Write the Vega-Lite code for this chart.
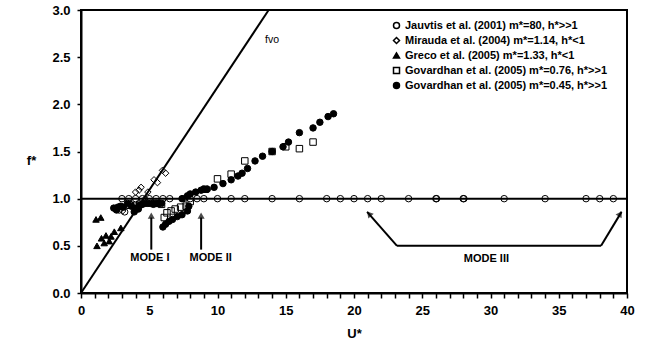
{
  "$schema": "https://vega.github.io/schema/vega-lite/v6.json",
  "width": 546,
  "height": 283,
  "autosize": "none",
  "padding": {"left": 81, "top": 10, "right": 26, "bottom": 52},
  "background": "white",
  "config": {
    "font": "Liberation Sans",
    "view": {"stroke": "black", "strokeWidth": 2},
    "axis": {"grid": false, "domainColor": "black", "domainWidth": 2, "tickColor": "black", "tickWidth": 1.5, "labelFont": "Liberation Sans", "labelFontWeight": "bold", "labelFontSize": 13, "labelColor": "black", "labelOverlap": false, "titleFont": "Liberation Sans", "titleFontWeight": "bold", "titleFontSize": 13, "titleColor": "black"},
    "legend": {"labelFont": "Liberation Sans", "labelFontWeight": "bold", "labelFontSize": 11, "labelColor": "black", "labelLimit": 0}
  },
  "datasets": {
    "pts": [
      {"series": "Jauvtis et al. (2001) m*=80, h*>>1", "U": 3, "f": 1},
      {"series": "Jauvtis et al. (2001) m*=80, h*>>1", "U": 3.5, "f": 1},
      {"series": "Jauvtis et al. (2001) m*=80, h*>>1", "U": 4, "f": 1},
      {"series": "Jauvtis et al. (2001) m*=80, h*>>1", "U": 4.5, "f": 1},
      {"series": "Jauvtis et al. (2001) m*=80, h*>>1", "U": 5, "f": 1},
      {"series": "Jauvtis et al. (2001) m*=80, h*>>1", "U": 5.5, "f": 1},
      {"series": "Jauvtis et al. (2001) m*=80, h*>>1", "U": 6, "f": 1},
      {"series": "Jauvtis et al. (2001) m*=80, h*>>1", "U": 6.5, "f": 1},
      {"series": "Jauvtis et al. (2001) m*=80, h*>>1", "U": 7.5, "f": 1},
      {"series": "Jauvtis et al. (2001) m*=80, h*>>1", "U": 8, "f": 1},
      {"series": "Jauvtis et al. (2001) m*=80, h*>>1", "U": 8.5, "f": 1},
      {"series": "Jauvtis et al. (2001) m*=80, h*>>1", "U": 9, "f": 1},
      {"series": "Jauvtis et al. (2001) m*=80, h*>>1", "U": 10, "f": 1},
      {"series": "Jauvtis et al. (2001) m*=80, h*>>1", "U": 11, "f": 1},
      {"series": "Jauvtis et al. (2001) m*=80, h*>>1", "U": 12, "f": 1},
      {"series": "Jauvtis et al. (2001) m*=80, h*>>1", "U": 14, "f": 1},
      {"series": "Jauvtis et al. (2001) m*=80, h*>>1", "U": 16, "f": 1},
      {"series": "Jauvtis et al. (2001) m*=80, h*>>1", "U": 18, "f": 1},
      {"series": "Jauvtis et al. (2001) m*=80, h*>>1", "U": 19, "f": 1},
      {"series": "Jauvtis et al. (2001) m*=80, h*>>1", "U": 20, "f": 1},
      {"series": "Jauvtis et al. (2001) m*=80, h*>>1", "U": 21, "f": 1},
      {"series": "Jauvtis et al. (2001) m*=80, h*>>1", "U": 22, "f": 1},
      {"series": "Jauvtis et al. (2001) m*=80, h*>>1", "U": 24, "f": 1},
      {"series": "Jauvtis et al. (2001) m*=80, h*>>1", "U": 26, "f": 1},
      {"series": "Jauvtis et al. (2001) m*=80, h*>>1", "U": 26.05, "f": 1},
      {"series": "Jauvtis et al. (2001) m*=80, h*>>1", "U": 28, "f": 1},
      {"series": "Jauvtis et al. (2001) m*=80, h*>>1", "U": 28.05, "f": 1},
      {"series": "Jauvtis et al. (2001) m*=80, h*>>1", "U": 31, "f": 1},
      {"series": "Jauvtis et al. (2001) m*=80, h*>>1", "U": 34, "f": 1},
      {"series": "Jauvtis et al. (2001) m*=80, h*>>1", "U": 37, "f": 1},
      {"series": "Jauvtis et al. (2001) m*=80, h*>>1", "U": 38, "f": 1},
      {"series": "Jauvtis et al. (2001) m*=80, h*>>1", "U": 39, "f": 1},
      {"series": "Jauvtis et al. (2001) m*=80, h*>>1", "U": 2.8, "f": 0.88},
      {"series": "Jauvtis et al. (2001) m*=80, h*>>1", "U": 3.2, "f": 0.86},
      {"series": "Mirauda et al. (2004) m*=1.14, h*<1", "U": 2.7, "f": 0.9},
      {"series": "Mirauda et al. (2004) m*=1.14, h*<1", "U": 3.05, "f": 0.87},
      {"series": "Mirauda et al. (2004) m*=1.14, h*<1", "U": 3.6, "f": 0.95},
      {"series": "Mirauda et al. (2004) m*=1.14, h*<1", "U": 4.0, "f": 1.07},
      {"series": "Mirauda et al. (2004) m*=1.14, h*<1", "U": 4.25, "f": 1.09},
      {"series": "Mirauda et al. (2004) m*=1.14, h*<1", "U": 4.4, "f": 1.12},
      {"series": "Mirauda et al. (2004) m*=1.14, h*<1", "U": 4.7, "f": 1.0},
      {"series": "Mirauda et al. (2004) m*=1.14, h*<1", "U": 4.9, "f": 1.07},
      {"series": "Mirauda et al. (2004) m*=1.14, h*<1", "U": 5.35, "f": 1.2},
      {"series": "Mirauda et al. (2004) m*=1.14, h*<1", "U": 5.6, "f": 1.17},
      {"series": "Mirauda et al. (2004) m*=1.14, h*<1", "U": 5.97, "f": 1.3},
      {"series": "Mirauda et al. (2004) m*=1.14, h*<1", "U": 6.2, "f": 1.27},
      {"series": "Greco et al. (2005) m*=1.33, h*<1", "U": 1.1, "f": 0.78},
      {"series": "Greco et al. (2005) m*=1.33, h*<1", "U": 1.45, "f": 0.8},
      {"series": "Greco et al. (2005) m*=1.33, h*<1", "U": 1.17, "f": 0.5},
      {"series": "Greco et al. (2005) m*=1.33, h*<1", "U": 1.5, "f": 0.58},
      {"series": "Greco et al. (2005) m*=1.33, h*<1", "U": 1.83, "f": 0.61},
      {"series": "Greco et al. (2005) m*=1.33, h*<1", "U": 2.2, "f": 0.6},
      {"series": "Greco et al. (2005) m*=1.33, h*<1", "U": 2.44, "f": 0.65},
      {"series": "Greco et al. (2005) m*=1.33, h*<1", "U": 2.92, "f": 0.69},
      {"series": "Greco et al. (2005) m*=1.33, h*<1", "U": 1.7, "f": 0.53},
      {"series": "Greco et al. (2005) m*=1.33, h*<1", "U": 2.07, "f": 0.55},
      {"series": "Govardhan et al. (2005) m*=0.76, h*>>1", "U": 3.6, "f": 0.93},
      {"series": "Govardhan et al. (2005) m*=0.76, h*>>1", "U": 4.0, "f": 0.92},
      {"series": "Govardhan et al. (2005) m*=0.76, h*>>1", "U": 4.3, "f": 0.94},
      {"series": "Govardhan et al. (2005) m*=0.76, h*>>1", "U": 5.5, "f": 0.95},
      {"series": "Govardhan et al. (2005) m*=0.76, h*>>1", "U": 5.9, "f": 0.94},
      {"series": "Govardhan et al. (2005) m*=0.76, h*>>1", "U": 6.1, "f": 0.8},
      {"series": "Govardhan et al. (2005) m*=0.76, h*>>1", "U": 6.3, "f": 0.85},
      {"series": "Govardhan et al. (2005) m*=0.76, h*>>1", "U": 6.6, "f": 0.87},
      {"series": "Govardhan et al. (2005) m*=0.76, h*>>1", "U": 6.9, "f": 0.89},
      {"series": "Govardhan et al. (2005) m*=0.76, h*>>1", "U": 7.3, "f": 0.91},
      {"series": "Govardhan et al. (2005) m*=0.76, h*>>1", "U": 7.7, "f": 0.92},
      {"series": "Govardhan et al. (2005) m*=0.76, h*>>1", "U": 8.0, "f": 0.97},
      {"series": "Govardhan et al. (2005) m*=0.76, h*>>1", "U": 9.1, "f": 1.1},
      {"series": "Govardhan et al. (2005) m*=0.76, h*>>1", "U": 10.0, "f": 1.21},
      {"series": "Govardhan et al. (2005) m*=0.76, h*>>1", "U": 11.0, "f": 1.26},
      {"series": "Govardhan et al. (2005) m*=0.76, h*>>1", "U": 12.0, "f": 1.4},
      {"series": "Govardhan et al. (2005) m*=0.76, h*>>1", "U": 14.0, "f": 1.5},
      {"series": "Govardhan et al. (2005) m*=0.76, h*>>1", "U": 15.0, "f": 1.55},
      {"series": "Govardhan et al. (2005) m*=0.76, h*>>1", "U": 16.0, "f": 1.53},
      {"series": "Govardhan et al. (2005) m*=0.76, h*>>1", "U": 17.0, "f": 1.6},
      {"series": "Govardhan et al. (2005) m*=0.45, h*>>1", "U": 2.4, "f": 0.9},
      {"series": "Govardhan et al. (2005) m*=0.45, h*>>1", "U": 2.6, "f": 0.88},
      {"series": "Govardhan et al. (2005) m*=0.45, h*>>1", "U": 2.7, "f": 0.91},
      {"series": "Govardhan et al. (2005) m*=0.45, h*>>1", "U": 2.9, "f": 0.92},
      {"series": "Govardhan et al. (2005) m*=0.45, h*>>1", "U": 3.1, "f": 0.91},
      {"series": "Govardhan et al. (2005) m*=0.45, h*>>1", "U": 3.4, "f": 0.95},
      {"series": "Govardhan et al. (2005) m*=0.45, h*>>1", "U": 3.7, "f": 0.92},
      {"series": "Govardhan et al. (2005) m*=0.45, h*>>1", "U": 3.9, "f": 0.86},
      {"series": "Govardhan et al. (2005) m*=0.45, h*>>1", "U": 4.0, "f": 0.9},
      {"series": "Govardhan et al. (2005) m*=0.45, h*>>1", "U": 4.2, "f": 0.89},
      {"series": "Govardhan et al. (2005) m*=0.45, h*>>1", "U": 4.3, "f": 0.93},
      {"series": "Govardhan et al. (2005) m*=0.45, h*>>1", "U": 4.5, "f": 0.94},
      {"series": "Govardhan et al. (2005) m*=0.45, h*>>1", "U": 4.7, "f": 0.95},
      {"series": "Govardhan et al. (2005) m*=0.45, h*>>1", "U": 4.9, "f": 0.95},
      {"series": "Govardhan et al. (2005) m*=0.45, h*>>1", "U": 5.1, "f": 0.95},
      {"series": "Govardhan et al. (2005) m*=0.45, h*>>1", "U": 5.3, "f": 0.94},
      {"series": "Govardhan et al. (2005) m*=0.45, h*>>1", "U": 5.5, "f": 0.95},
      {"series": "Govardhan et al. (2005) m*=0.45, h*>>1", "U": 5.7, "f": 0.95},
      {"series": "Govardhan et al. (2005) m*=0.45, h*>>1", "U": 5.9, "f": 0.95},
      {"series": "Govardhan et al. (2005) m*=0.45, h*>>1", "U": 6.0, "f": 0.7},
      {"series": "Govardhan et al. (2005) m*=0.45, h*>>1", "U": 6.2, "f": 0.73},
      {"series": "Govardhan et al. (2005) m*=0.45, h*>>1", "U": 6.45, "f": 0.76},
      {"series": "Govardhan et al. (2005) m*=0.45, h*>>1", "U": 6.7, "f": 0.78},
      {"series": "Govardhan et al. (2005) m*=0.45, h*>>1", "U": 7.05, "f": 0.81},
      {"series": "Govardhan et al. (2005) m*=0.45, h*>>1", "U": 7.4, "f": 0.83},
      {"series": "Govardhan et al. (2005) m*=0.45, h*>>1", "U": 7.8, "f": 0.87},
      {"series": "Govardhan et al. (2005) m*=0.45, h*>>1", "U": 7.9, "f": 0.92},
      {"series": "Govardhan et al. (2005) m*=0.45, h*>>1", "U": 7.4, "f": 1.0},
      {"series": "Govardhan et al. (2005) m*=0.45, h*>>1", "U": 7.8, "f": 1.03},
      {"series": "Govardhan et al. (2005) m*=0.45, h*>>1", "U": 8.0, "f": 1.05},
      {"series": "Govardhan et al. (2005) m*=0.45, h*>>1", "U": 8.4, "f": 1.07},
      {"series": "Govardhan et al. (2005) m*=0.45, h*>>1", "U": 8.8, "f": 1.09},
      {"series": "Govardhan et al. (2005) m*=0.45, h*>>1", "U": 9.0, "f": 1.1},
      {"series": "Govardhan et al. (2005) m*=0.45, h*>>1", "U": 9.25, "f": 1.1},
      {"series": "Govardhan et al. (2005) m*=0.45, h*>>1", "U": 9.75, "f": 1.12},
      {"series": "Govardhan et al. (2005) m*=0.45, h*>>1", "U": 10.4, "f": 1.16},
      {"series": "Govardhan et al. (2005) m*=0.45, h*>>1", "U": 11.0, "f": 1.2},
      {"series": "Govardhan et al. (2005) m*=0.45, h*>>1", "U": 11.5, "f": 1.24},
      {"series": "Govardhan et al. (2005) m*=0.45, h*>>1", "U": 11.8, "f": 1.27},
      {"series": "Govardhan et al. (2005) m*=0.45, h*>>1", "U": 12.2, "f": 1.32},
      {"series": "Govardhan et al. (2005) m*=0.45, h*>>1", "U": 12.75, "f": 1.4},
      {"series": "Govardhan et al. (2005) m*=0.45, h*>>1", "U": 13.3, "f": 1.45},
      {"series": "Govardhan et al. (2005) m*=0.45, h*>>1", "U": 14.0, "f": 1.5},
      {"series": "Govardhan et al. (2005) m*=0.45, h*>>1", "U": 14.8, "f": 1.55},
      {"series": "Govardhan et al. (2005) m*=0.45, h*>>1", "U": 15.2, "f": 1.6},
      {"series": "Govardhan et al. (2005) m*=0.45, h*>>1", "U": 16.0, "f": 1.7},
      {"series": "Govardhan et al. (2005) m*=0.45, h*>>1", "U": 17.0, "f": 1.75},
      {"series": "Govardhan et al. (2005) m*=0.45, h*>>1", "U": 17.5, "f": 1.81},
      {"series": "Govardhan et al. (2005) m*=0.45, h*>>1", "U": 18.1, "f": 1.87},
      {"series": "Govardhan et al. (2005) m*=0.45, h*>>1", "U": 18.5, "f": 1.9}
    ],
    "segs": [
      {"U": 0, "f": 1, "U2": 40, "f2": 1},
      {"U": 0, "f": 0, "U2": 13.75, "f2": 3},
      {"U": 5.15, "f": 0.46, "U2": 5.15, "f2": 0.8},
      {"U": 8.8, "f": 0.46, "U2": 8.8, "f2": 0.8},
      {"U": 20.96, "f": 0.86, "U2": 23.15, "f2": 0.5},
      {"U": 23.15, "f": 0.5, "U2": 38.1, "f2": 0.5},
      {"U": 38.1, "f": 0.5, "U2": 39.6, "f2": 0.86}
    ],
    "labels": [
      {"U": 5.05, "f": 0.37, "text": "MODE I"},
      {"U": 9.5, "f": 0.37, "text": "MODE II"},
      {"U": 29.7, "f": 0.36, "text": "MODE III"}
    ]
  },
  "encoding": {
    "x": {"field": "U", "type": "quantitative", "scale": {"domain": [0, 40], "nice": false}, "axis": {"values": [0,1,2,3,4,5,6,7,8,9,10,11,12,13,14,15,16,17,18,19,20,21,22,23,24,25,26,27,28,29,30,31,32,33,34,35,36,37,38,39,40], "labelExpr": "datum.value % 5 == 0 ? datum.label : ''", "labelOverlap": false, "labelBound": false, "labelFlush": false, "ticks": true, "tickSize": 5, "labelPadding": 6, "title": "U*", "titlePadding": 10}},
    "y": {"field": "f", "type": "quantitative", "scale": {"domain": [0, 3], "nice": false}, "axis": {"values": [0, 0.5, 1, 1.5, 2, 2.5, 3], "format": ".1f", "tickSize": 4, "ticks": true, "labelPadding": 7, "title": "f*", "titleAngle": 0, "titleX": -50, "titleY": 150, "titleAlign": "center", "titleBaseline": "middle"}}
  },
  "layer": [
    {
      "data": {"name": "segs"},
      "mark": {"type": "rule", "color": "black", "strokeWidth": 2},
      "encoding": {
        "x2": {"field": "U2"},
        "y2": {"field": "f2"}
      }
    },
    {
      "data": {"name": "pts"},
      "mark": {"type": "point", "filled": false, "strokeWidth": 1, "size": 42, "opacity": 1},
      "encoding": {
        "stroke": {"field": "series", "type": "nominal", "sort": null, "scale": {"domain": ["Jauvtis et al. (2001) m*=80, h*>>1", "Mirauda et al. (2004) m*=1.14, h*<1", "Greco et al. (2005) m*=1.33, h*<1", "Govardhan et al. (2005) m*=0.76, h*>>1", "Govardhan et al. (2005) m*=0.45, h*>>1"], "range": ["black", "black", "black", "black", "black"]}, "legend": {"title": null, "orient": "none", "legendX": 310, "legendY": 10, "rowPadding": 2, "symbolSize": 36, "labelOffset": 3, "encode": {"symbols": {"update": {"fill": {"signal": "(datum.value == 'Greco et al. (2005) m*=1.33, h*<1' || datum.value == 'Govardhan et al. (2005) m*=0.45, h*>>1') ? 'black' : 'transparent'"}}}}}},
        "shape": {"field": "series", "type": "nominal", "sort": null, "scale": {"domain": ["Jauvtis et al. (2001) m*=80, h*>>1", "Mirauda et al. (2004) m*=1.14, h*<1", "Greco et al. (2005) m*=1.33, h*<1", "Govardhan et al. (2005) m*=0.76, h*>>1", "Govardhan et al. (2005) m*=0.45, h*>>1"], "range": ["circle", "diamond", "triangle-up", "square", "circle"]}, "legend": {"title": null, "orient": "none", "legendX": 310, "legendY": 10, "rowPadding": 2, "symbolSize": 36, "labelOffset": 3, "encode": {"symbols": {"update": {"fill": {"signal": "(datum.value == 'Greco et al. (2005) m*=1.33, h*<1' || datum.value == 'Govardhan et al. (2005) m*=0.45, h*>>1') ? 'black' : 'transparent'"}}}}}},
        "fill": {"field": "series", "type": "nominal", "sort": null, "scale": {"domain": ["Jauvtis et al. (2001) m*=80, h*>>1", "Mirauda et al. (2004) m*=1.14, h*<1", "Greco et al. (2005) m*=1.33, h*<1", "Govardhan et al. (2005) m*=0.76, h*>>1", "Govardhan et al. (2005) m*=0.45, h*>>1"], "range": ["transparent", "transparent", "black", "transparent", "black"]}, "legend": null}
      }
    },
    {
      "data": {"values": [{"U": 5.15, "f": 0.82}, {"U": 8.8, "f": 0.82}]},
      "mark": {"type": "point", "shape": "triangle-up", "filled": true, "color": "black", "size": 50}
    },
    {
      "data": {"values": [{"U": 21.1, "f": 0.84}]},
      "mark": {"type": "point", "shape": "triangle-up", "filled": true, "color": "black", "size": 50, "angle": 319}
    },
    {
      "data": {"values": [{"U": 39.5, "f": 0.84}]},
      "mark": {"type": "point", "shape": "triangle-up", "filled": true, "color": "black", "size": 50, "angle": 31}
    },
    {
      "data": {"name": "labels"},
      "mark": {"type": "text", "font": "Liberation Sans", "fontWeight": "bold", "fontSize": 11, "color": "black", "align": "center", "baseline": "middle"},
      "encoding": {"text": {"field": "text"}}
    },
    {
      "data": {"values": [{"U": 14.0, "f": 2.68, "text": "fvo"}]},
      "mark": {"type": "text", "font": "Liberation Sans", "fontSize": 10.5, "color": "black", "align": "center", "baseline": "middle"},
      "encoding": {"text": {"field": "text"}}
    }
  ]
}
